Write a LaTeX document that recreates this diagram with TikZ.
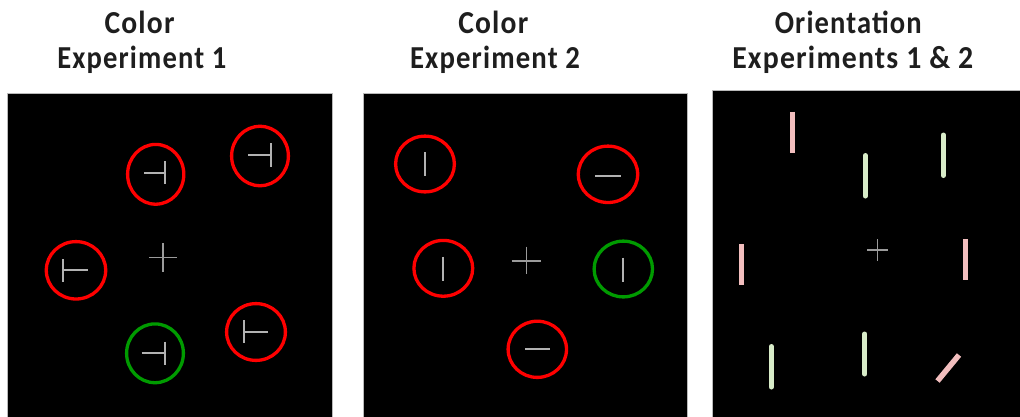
\documentclass[tikz,border=0pt]{standalone}
\usepackage{fontspec}
\usepackage{graphicx}
\setmainfont{Carlito}
\newfontfamily\headfont[LetterSpace=4]{Carlito}

\definecolor{ringred}{RGB}{255,0,0}
\definecolor{ringgreen}{RGB}{0,155,0}
\definecolor{stimgray}{RGB}{178,178,178}
\definecolor{fixgray}{RGB}{155,155,155}
\definecolor{barpink}{RGB}{242,190,190}
\definecolor{bargreen}{RGB}{216,236,200}
\definecolor{headink}{RGB}{30,30,30}

% heading line: set in spaced bold Carlito, squeezed to a given width
\newcommand{\headline}[2]{\resizebox{#1}{\height}{\headfont\bfseries #2}}

\begin{document}
\begin{tikzpicture}[x=1pt,y=-1pt,
  panel/.style={fill=black,draw=gray!55,line width=0.8pt},
  redring/.style={draw=ringred,line width=3.3pt},
  greenring/.style={draw=ringgreen,line width=3.3pt},
  tbar/.style={draw=stimgray,line width=2.3pt},
  fixcross/.style={draw=fixgray,line width=1.5pt},
  pinkbar/.style={draw=barpink,line width=5pt,line cap=butt},
  greenbar/.style={draw=bargreen,line width=5pt,line cap=round},
  head/.style={anchor=base,inner sep=0pt,text=headink,font=\fontsize{32}{32}\selectfont}]
\useasboundingbox (0,0) rectangle (1020,416);

% ---------- headings ----------
\node[head] (h1a) at (139.5,33.3) {\headline{70pt}{Color}};
\node[head] (h1b) at (141.8,68.3) {\headline{169pt}{Experiment 1}};
\node[head] (h2a) at (493.3,33.3) {\headline{70pt}{Color}};
\node[head] (h2b) at (495,68.3) {\headline{170pt}{Experiment 2}};
\node[head] (h3a) at (848.3,33.3) {\headline{147pt}{Orientation}};
\node[head] (h3b) at (852.8,68.3) {\headline{241pt}{Experiments 1 \& 2}};

% ---------- panel 1: colour, experiment 1 ----------
\draw[panel] (7,93) rectangle (332,417);
\draw[fixcross] (149,257.3) -- (177,257.3) (163,243) -- (163,271.5);
\draw[redring] (155.7,174.3) ellipse [x radius=28.1,y radius=29.9];
\draw[tbar] (144,173.3) -- (166,173.3) (165,161) -- (165,184);
\draw[redring] (260,156) ellipse [x radius=28.4,y radius=29.7];
\draw[tbar] (248.3,154.7) -- (271.7,154.7) (270.7,143.3) -- (270.7,166.7);
\draw[redring] (76,270.3) ellipse [x radius=29.7,y radius=28.7];
\draw[tbar] (62.7,259.3) -- (62.7,281.7) (62.7,270.3) -- (88.3,270.3);
\draw[greenring] (155,353.3) ellipse [x radius=28.4,y radius=29.4];
\draw[tbar] (141.7,353.3) -- (165.7,353.3) (165,341.7) -- (165,365);
\draw[redring] (256,332) ellipse [x radius=29.4,y radius=28.4];
\draw[tbar] (244,320) -- (244,343.3) (244,331.7) -- (268.3,331.7);

% ---------- panel 2: colour, experiment 2 ----------
\draw[panel] (363,93) rectangle (687,417);
\draw[fixcross] (511.7,261) -- (540.7,261) (526.3,246.7) -- (526.3,274.3);
\draw[redring] (425,164) ellipse [x radius=29.4,y radius=27.9];
\draw[tbar] (425,152.3) -- (425,176);
\draw[redring] (608,174.3) ellipse [x radius=29.7,y radius=28.2];
\draw[tbar] (595,175.7) -- (620.7,175.7);
\draw[redring] (443.3,268.3) ellipse [x radius=29.4,y radius=27.9];
\draw[tbar] (442.7,256.7) -- (442.7,280.7);
\draw[greenring] (623.3,269) ellipse [x radius=29.2,y radius=27.9];
\draw[tbar] (623.3,257.7) -- (623.3,282);
\draw[redring] (537.3,349.3) ellipse [x radius=29.2,y radius=28.1];
\draw[tbar] (525,349.3) -- (550,349.3);

% ---------- panel 3: orientation ----------
\draw[panel] (712,90) rectangle (1021,417);
\draw[fixcross] (867,250) -- (888.4,250) (877.7,239) -- (877.7,261);
\draw[pinkbar] (792.3,111.7) -- (792.3,153.3);
\draw[greenbar] (865.3,155.5) -- (865.3,196);
\draw[greenbar] (943.3,135) -- (943.3,175.5);
\draw[pinkbar] (741,244) -- (741,285);
\draw[pinkbar] (965.7,239) -- (965.7,280.3);
\draw[greenbar] (771.3,346.5) -- (771.3,387);
\draw[greenbar] (864.7,334) -- (864.7,374);
\draw[pinkbar,line width=5.5pt] (959,355) -- (937.5,381);
\end{tikzpicture}
\end{document}
